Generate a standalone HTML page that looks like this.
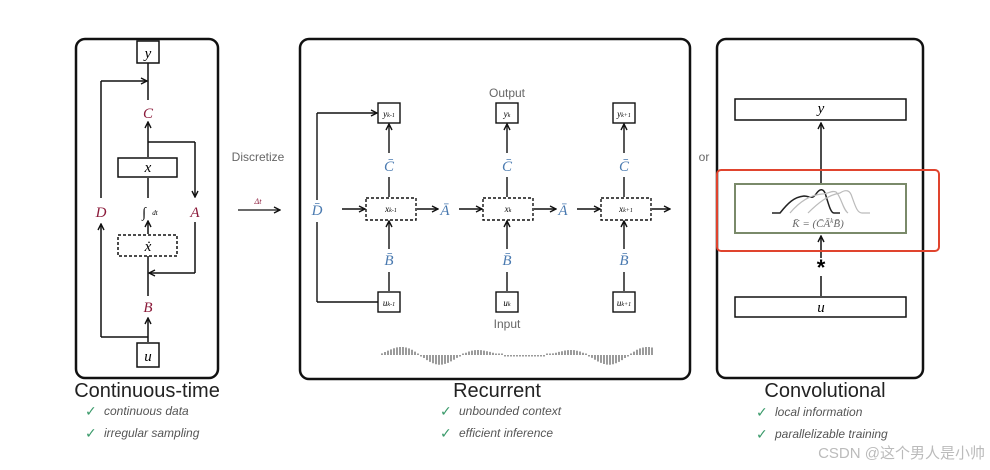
<!DOCTYPE html>
<html><head><meta charset="utf-8"><style>
html,body{margin:0;padding:0;background:#fff;width:990px;height:470px;overflow:hidden}
svg{display:block}
.t{font-family:"Liberation Sans","DejaVu Sans",sans-serif}
.m{font-family:"Liberation Serif",serif;font-style:italic}
.ck{font-family:"DejaVu Sans",sans-serif;fill:#3a9a6a}
.it{font-family:"Liberation Sans",sans-serif;font-style:italic;fill:#555;font-size:12px}
</style></head><body>
<svg width="990" height="470" viewBox="0 0 990 470" xmlns="http://www.w3.org/2000/svg">
<defs><marker id="a" markerWidth="8" markerHeight="8" refX="7" refY="4" orient="auto" markerUnits="userSpaceOnUse"><path d="M1,1 L7,4 L1,7" fill="none" stroke="#111" stroke-width="1.4"/></marker></defs>
<g fill="none" stroke="#111" stroke-width="2.5">
<rect x="76" y="39" width="142" height="339" rx="9"/>
<rect x="300" y="39" width="390" height="340" rx="9"/>
<rect x="717" y="39" width="206" height="339" rx="9"/>
</g>
<g stroke="#111" stroke-width="1.5" fill="none">
<rect x="137" y="41" width="22" height="22" fill="#fff"/>
<rect x="137" y="343" width="22" height="24" fill="#fff"/>
<rect x="118" y="158" width="59" height="19"/>
<rect x="118" y="235" width="59" height="21" stroke-dasharray="3,2"/>
<line x1="148" y1="63" x2="148" y2="100"/>
<line x1="148" y1="157" x2="148" y2="122" marker-end="url(#a)"/>
<line x1="148" y1="142" x2="195" y2="142"/>
<line x1="195" y1="142" x2="195" y2="197" marker-end="url(#a)"/>
<line x1="148" y1="178" x2="148" y2="198"/>
<line x1="148" y1="234" x2="148" y2="221" marker-end="url(#a)"/>
<line x1="195" y1="222" x2="195" y2="273"/>
<line x1="195" y1="273" x2="149" y2="273" marker-end="url(#a)"/>
<line x1="148" y1="256" x2="148" y2="296"/>
<line x1="148" y1="342" x2="148" y2="318" marker-end="url(#a)"/>
<line x1="148" y1="337" x2="101" y2="337"/>
<line x1="101" y1="337" x2="101" y2="224" marker-end="url(#a)"/>
<line x1="101" y1="198" x2="101" y2="81"/>
<line x1="101" y1="81" x2="147" y2="81" marker-end="url(#a)"/>
</g>
<g class="m" font-size="15" text-anchor="middle">
<text x="148" y="58">y</text>
<text x="148" y="361">u</text>
<text x="148" y="172">x</text>
<text x="148" y="251">ẋ</text>
<text x="148" y="118" fill="#8b1a3a">C</text>
<text x="148" y="312" fill="#8b1a3a">B</text>
<text x="101" y="217" fill="#8b1a3a">D</text>
<text x="195" y="217" fill="#8b1a3a">A</text>
<text x="144" y="217" font-size="14">∫</text>
<text x="155" y="215" font-size="7">dt</text>
</g>
<text x="147" y="397" class="t" font-size="20" fill="#222" text-anchor="middle">Continuous-time</text>
<text x="85" y="416" class="ck" font-size="14">✓</text><text x="104" y="415" class="it">continuous data</text>
<text x="85" y="438" class="ck" font-size="14">✓</text><text x="104" y="437" class="it">irregular sampling</text>
<text x="258" y="161" class="t" font-size="12" fill="#666" text-anchor="middle">Discretize</text>
<text x="258" y="204" class="m" font-size="8" fill="#8b1a3a" text-anchor="middle">Δt</text>
<line x1="238" y1="210" x2="280" y2="210" stroke="#111" stroke-width="1.3" marker-end="url(#a)"/>
<text x="704" y="161" class="t" font-size="12" fill="#666" text-anchor="middle">or</text>
<text x="507" y="97" class="t" font-size="12" fill="#666" text-anchor="middle">Output</text>
<text x="507" y="328" class="t" font-size="12" fill="#666" text-anchor="middle">Input</text>
<g stroke="#111" stroke-width="1.4" fill="none">
<rect x="378" y="103" width="22" height="20" fill="#fff"/><rect x="496" y="103" width="22" height="20"/><rect x="613" y="103" width="22" height="20"/>
<rect x="378" y="292" width="22" height="20"/><rect x="496" y="292" width="22" height="20"/><rect x="613" y="292" width="22" height="20"/>
<rect x="366" y="198" width="50" height="22" stroke-dasharray="3,2"/>
<rect x="483" y="198" width="50" height="22" stroke-dasharray="3,2"/>
<rect x="601" y="198" width="50" height="22" stroke-dasharray="3,2"/>
<line x1="317" y1="200" x2="317" y2="113"/><line x1="317" y1="113" x2="377" y2="113" marker-end="url(#a)"/>
<line x1="317" y1="222" x2="317" y2="302"/><line x1="317" y1="302" x2="378" y2="302"/>
<line x1="342" y1="209" x2="365" y2="209" marker-end="url(#a)"/>
<line x1="417" y1="209" x2="438" y2="209" marker-end="url(#a)"/>
<line x1="459" y1="209" x2="482" y2="209" marker-end="url(#a)"/>
<line x1="534" y1="209" x2="556" y2="209" marker-end="url(#a)"/>
<line x1="577" y1="209" x2="600" y2="209" marker-end="url(#a)"/>
<line x1="652" y1="209" x2="670" y2="209" marker-end="url(#a)"/>
</g>
<g stroke="#111" stroke-width="1.4" fill="none">
<line x1="389" y1="197" x2="389" y2="177"/><line x1="389" y1="153" x2="389" y2="124" marker-end="url(#a)"/>
<line x1="389" y1="291" x2="389" y2="272"/><line x1="389" y1="249" x2="389" y2="221" marker-end="url(#a)"/>
<line x1="507" y1="197" x2="507" y2="177"/><line x1="507" y1="153" x2="507" y2="124" marker-end="url(#a)"/>
<line x1="507" y1="291" x2="507" y2="272"/><line x1="507" y1="249" x2="507" y2="221" marker-end="url(#a)"/>
<line x1="624" y1="197" x2="624" y2="177"/><line x1="624" y1="153" x2="624" y2="124" marker-end="url(#a)"/>
<line x1="624" y1="291" x2="624" y2="272"/><line x1="624" y1="249" x2="624" y2="221" marker-end="url(#a)"/>
</g>
<g class="m" font-size="9" text-anchor="middle">
<text x="389" y="117">y<tspan font-size="6">k-1</tspan></text><text x="507" y="117">y<tspan font-size="6">k</tspan></text><text x="624" y="117">y<tspan font-size="6">k+1</tspan></text>
<text x="389" y="306">u<tspan font-size="6">k-1</tspan></text><text x="507" y="306">u<tspan font-size="6">k</tspan></text><text x="624" y="306">u<tspan font-size="6">k+1</tspan></text>
<text x="391" y="212">x<tspan font-size="6">k-1</tspan></text><text x="508" y="212">x<tspan font-size="6">k</tspan></text><text x="626" y="212">x<tspan font-size="6">k+1</tspan></text>
</g>
<g class="m" font-size="15" fill="#4a7ab0" text-anchor="middle">
<text x="389" y="171">C̄</text><text x="507" y="171">C̄</text><text x="624" y="171">C̄</text>
<text x="389" y="265">B̄</text><text x="507" y="265">B̄</text><text x="624" y="265">B̄</text>
<text x="445" y="215">Ā</text><text x="563" y="215">Ā</text><text x="317" y="215">D̄</text>
</g>
<g id="wave" stroke="#222" stroke-width="0.9"></g>
<text x="497" y="397" class="t" font-size="20" fill="#222" text-anchor="middle">Recurrent</text>
<text x="440" y="416" class="ck" font-size="14">✓</text><text x="459" y="415" class="it">unbounded context</text>
<text x="440" y="438" class="ck" font-size="14">✓</text><text x="459" y="437" class="it">efficient inference</text>
<g stroke="#111" stroke-width="1.5" fill="none">
<rect x="735" y="99" width="171" height="21"/>
<rect x="735" y="297" width="171" height="20"/>
<line x1="821" y1="183" x2="821" y2="123" marker-end="url(#a)"/>
<line x1="821" y1="296" x2="821" y2="276"/>
<line x1="821" y1="258" x2="821" y2="236" marker-end="url(#a)"/>
</g>
<rect x="735" y="184" width="171" height="49" fill="none" stroke="#7a8a6a" stroke-width="2"/>
<path d="M772,213 h8 c8,-10 14,-16 24,-17 c6,0 8,4 12,-2 c4,-6 8,-6 10,2 c3,10 5,17 8,17 h6" fill="none" stroke="#222" stroke-width="1.5"/>
<path d="M790,213 c10,-12 20,-18 32,-19 c6,0 10,-4 14,-2 c5,4 7,18 12,21 M808,213 c10,-10 20,-18 32,-20 c6,-4 10,-3 12,4 c3,8 5,16 10,16 h8" fill="none" stroke="#bbb" stroke-width="1.2"/>
<text x="818" y="227" class="m" font-size="11" fill="#666" text-anchor="middle">K̄ = (C̄Ā<tspan font-size="7" dy="-4">k</tspan><tspan dy="4">B̄)</tspan></text>
<text x="821" y="113" class="m" font-size="15" text-anchor="middle">y</text>
<text x="821" y="312" class="m" font-size="15" text-anchor="middle">u</text>
<text x="821" y="275" class="t" font-size="22" font-weight="bold" text-anchor="middle">*</text>
<rect x="717" y="170" width="222" height="81" rx="4" fill="none" stroke="#e0442e" stroke-width="2"/>
<text x="825" y="397" class="t" font-size="20" fill="#222" text-anchor="middle">Convolutional</text>
<text x="756" y="417" class="ck" font-size="14">✓</text><text x="775" y="416" class="it">local information</text>
<text x="756" y="439" class="ck" font-size="14">✓</text><text x="775" y="438" class="it">parallelizable training</text>
<text x="985" y="458" class="t" font-size="15" fill="#bbb" text-anchor="end" style="font-family:'Liberation Sans','Noto Sans CJK SC',sans-serif">CSDN @这个男人是小帅</text>
</svg>
<script>
var g=document.getElementById('wave'),s='';
for(var x=382;x<=654;x+=3){var t=(x-382)/272;var h=10*Math.sin(t*Math.PI*6.5+0.3)*(0.55+0.45*Math.sin(t*9));
if(Math.abs(h)<1.5)h=h<0?-1.5:1.5;
s+='<line x1="'+x+'" y1="355" x2="'+x+'" y2="'+(355-h).toFixed(1)+'"/>';}
g.innerHTML=s;
</script>
</body></html>
